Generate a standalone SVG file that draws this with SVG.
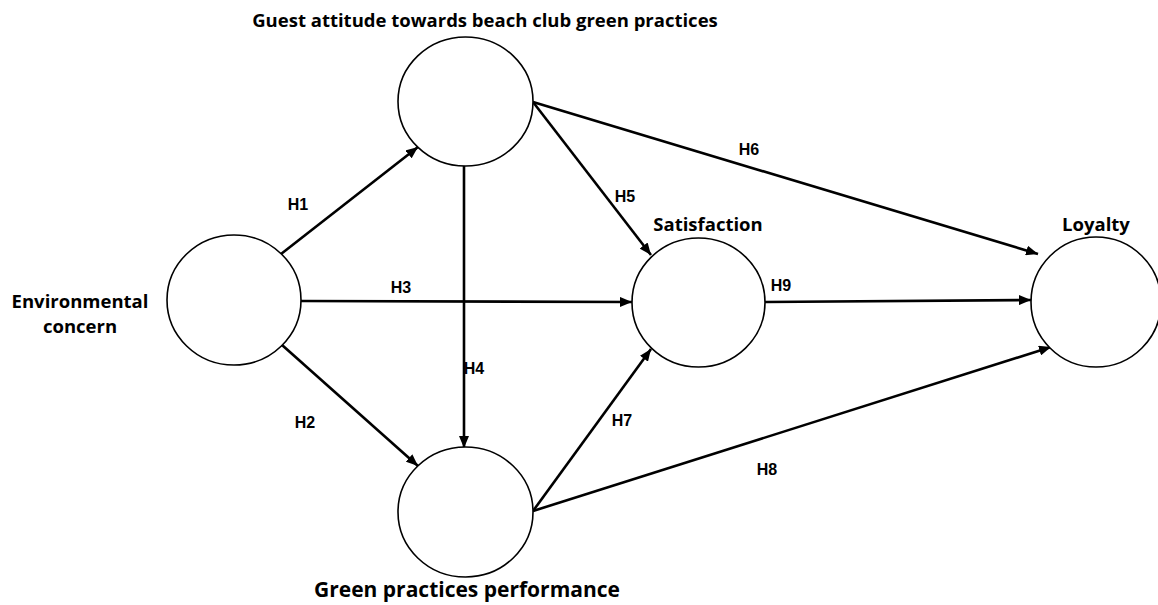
<svg xmlns="http://www.w3.org/2000/svg" width="1158" height="605" viewBox="0 0 1158 605">
<style>
.node{fill:#fff;stroke:#000;stroke-width:1.6}
.lbl{font-family:"Open Sans","Liberation Sans",sans-serif;font-weight:bold;font-size:18.5px;fill:#000;text-anchor:middle}
.h{font-family:"Liberation Sans",Arial,sans-serif;font-weight:bold;font-size:16px;fill:#000;text-anchor:middle}
.c{stroke:#000;stroke-width:2.6;fill:none;marker-end:url(#ah)}
</style>
<defs>
<marker id="ah" viewBox="0 0 12 10" refX="12" refY="5" markerWidth="12" markerHeight="10" markerUnits="userSpaceOnUse" orient="auto">
<path d="M0,0 L12,5 L0,10 Z" fill="#000"/>
</marker>
</defs>
<rect width="1158" height="605" fill="#fff"/>
<g id="connectors">
<line class="c" x1="281" y1="254" x2="418" y2="147"/>
<line class="c" x1="282" y1="345" x2="418" y2="466"/>
<line class="c" x1="301" y1="301" x2="632" y2="302"/>
<line class="c" x1="464" y1="166" x2="464" y2="448"/>
<line class="c" x1="533" y1="102" x2="651" y2="255"/>
<line class="c" x1="533" y1="102" x2="1038" y2="254"/>
<line class="c" x1="533" y1="511" x2="651" y2="349"/>
<line class="c" x1="533" y1="511" x2="1051" y2="347"/>
<line class="c" x1="765" y1="302" x2="1031" y2="300"/>
<text class="h" x="298" y="210">H1</text>
<text class="h" x="305" y="428">H2</text>
<text class="h" x="401" y="293">H3</text>
<text class="h" x="474" y="374">H4</text>
<text class="h" x="625" y="202">H5</text>
<text class="h" x="749" y="155">H6</text>
<text class="h" x="622" y="426">H7</text>
<text class="h" x="767" y="475">H8</text>
<text class="h" x="781" y="291">H9</text>
</g>
<g id="environmental-concern">
<ellipse class="node" cx="234" cy="300" rx="67" ry="65"/>
<text class="lbl" x="80" y="308">Environmental</text>
<text class="lbl" x="80" y="333">concern</text>
</g>
<g id="guest-attitude">
<ellipse class="node" cx="465.5" cy="101.5" rx="67.5" ry="64.5"/>
<text class="lbl" x="485" y="27">Guest attitude towards beach club green practices</text>
</g>
<g id="green-practices">
<ellipse class="node" cx="465.5" cy="512" rx="67.5" ry="65"/>
<text class="lbl" x="467" y="597" style="font-size:21px">Green practices performance</text>
</g>
<g id="satisfaction">
<ellipse class="node" cx="698.5" cy="302.5" rx="66.5" ry="64.5"/>
<text class="lbl" x="708" y="231">Satisfaction</text>
</g>
<g id="loyalty">
<ellipse class="node" cx="1096" cy="302" rx="65" ry="65"/>
<text class="lbl" x="1096" y="231">Loyalty</text>
</g>
</svg>
